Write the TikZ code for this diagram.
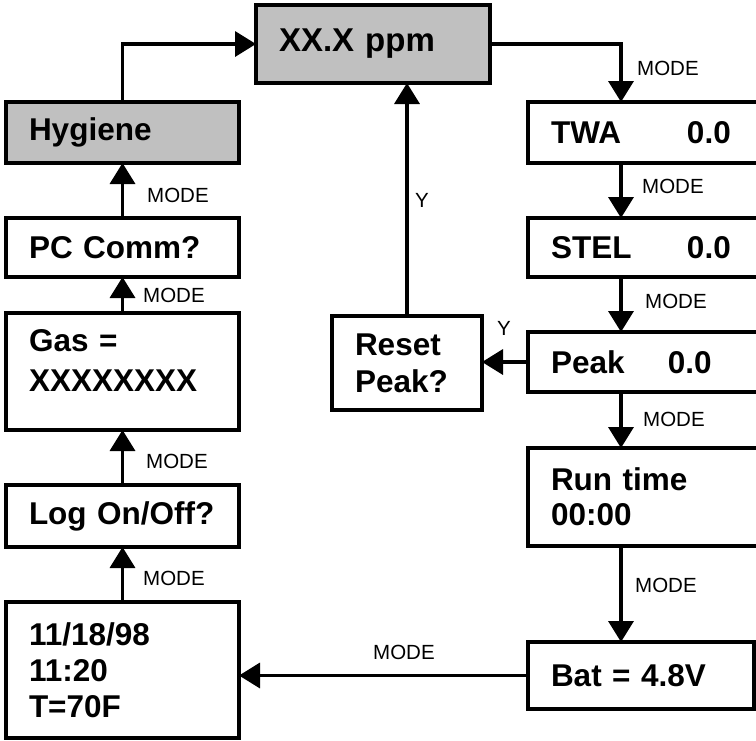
\documentclass[tikz,border=0pt]{standalone}
\usepackage{fontspec}
\setmainfont{Liberation Sans}
\usetikzlibrary{arrows.meta}
\definecolor{boxgray}{HTML}{C0C0C0}
\begin{document}
\begin{tikzpicture}[x=1pt,y=-1pt,
  box/.style={draw, line width=3.5pt, anchor=north west, inner xsep=23pt, inner ysep=0pt,
    outer sep=0pt, align=left, font=\fontsize{31.5}{37}\selectfont\bfseries},
  graybox/.style={box, fill=boxgray},
  arr/.style={line width=3.5pt, -{Triangle[length=21pt,width=25pt]}},
  lbl/.style={anchor=base west, inner sep=0pt, font=\fontsize{20.5}{23}\selectfont}]
\useasboundingbox (0,0) rectangle (756,740);
\clip (0,0) rectangle (756,740);
% boxes
\node[graybox, text width=188pt, minimum height=78pt, font=\fontsize{33}{37}\selectfont\bfseries] (ppm) at (256,5) {XX.X ppm};
\node[graybox, text width=187pt, minimum height=61pt] (hyg) at (6,102) {Hygiene};
\node[box, text width=187pt, minimum height=59pt] (pc) at (6,218) {PC Comm?};
\node[box, text width=187pt, minimum height=117pt, font=\fontsize{31.5}{40}\selectfont\bfseries] (gas) at (6,313) {Gas =\\XXXXXXXX\\[-18pt]\mbox{}};
\node[box, text width=187pt, minimum height=62pt] (log) at (6,485) {Log On/Off?};
\node[box, text width=187pt, minimum height=136pt, font=\fontsize{31.5}{36}\selectfont\bfseries] (date) at (6,602) {11/18/98\\11:20\\T=70F};
\node[box, text width=196pt, minimum height=61pt] (twa) at (528,102) {\makebox[136pt][l]{TWA}0.0};
\node[box, text width=196pt, minimum height=59pt] (stel) at (528,218) {\makebox[136pt][l]{STEL}0.0};
\node[box, text width=196pt, minimum height=60pt] (peak) at (528,332) {\makebox[117pt][l]{Peak}0.0};
\node[box, text width=196pt, minimum height=98pt, font=\fontsize{31.5}{35}\selectfont\bfseries] (run) at (528,448) {Run time\\00:00};
\node[box, text width=180pt, minimum height=67pt] (bat) at (528,642) {Bat = 4.8V};
\node[box, text width=104pt, minimum height=94pt] (reset) at (332,316) {Reset\\Peak?};
% column coordinate for right side
\coordinate (rc) at (621,0);
% connectors
\draw[arr] (hyg.north) |- (ppm.west);
\draw[arr] (ppm.east) -| (rc |- twa.north);
\draw[arr] (rc |- twa.south) -- (rc |- stel.north);
\draw[arr] (rc |- stel.south) -- (rc |- peak.north);
\draw[arr] (rc |- peak.south) -- (rc |- run.north);
\draw[arr] (rc |- run.south) -- (rc |- bat.north);
\draw[arr] (bat.west) -- (date.east |- bat.west);
\draw[arr] (date.north) -- (log.south);
\draw[arr] (log.north) -- (gas.south);
\draw[arr] (gas.north) -- (pc.south);
\draw[arr] (pc.north) -- (hyg.south);
\draw[arr] (peak.west) -- (reset.east |- peak.west);
\draw[arr] (reset.north) -- (reset.north |- ppm.south);
% labels
\node[lbl] (m1) at (637,75) {MODE};
\node[lbl] (m2) at (642,193) {MODE};
\node[lbl] (m3) at (645,308) {MODE};
\node[lbl] (m4) at (643,426) {MODE};
\node[lbl] (m5) at (635,592) {MODE};
\node[lbl] (m6) at (373,659) {MODE};
\node[lbl] (m7) at (147,202) {MODE};
\node[lbl] (m8) at (143,302) {MODE};
\node[lbl] (m9) at (146,468) {MODE};
\node[lbl] (m10) at (143,585) {MODE};
\node[lbl] (y1) at (415,207) {Y};
\node[lbl] (y2) at (497,335) {Y};
\end{tikzpicture}
\end{document}
